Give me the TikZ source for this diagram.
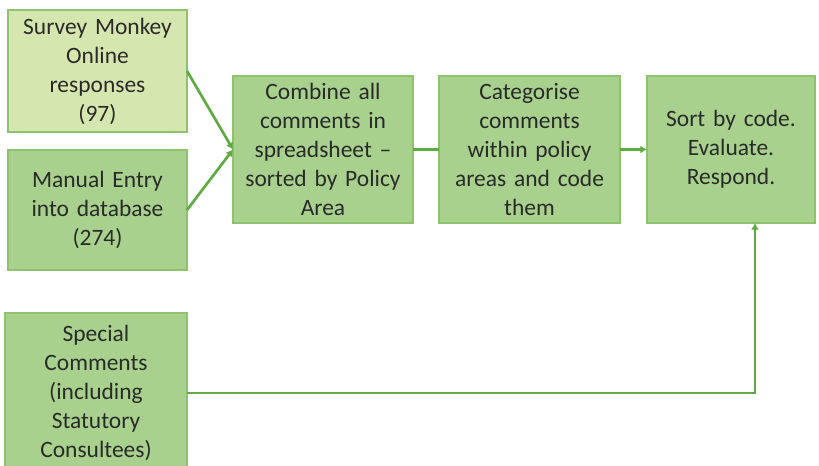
\documentclass[tikz,border=0pt]{standalone}
\usepackage{fontspec}
\setmainfont{Carlito}
\usepackage{xcolor}
\usetikzlibrary{positioning,arrows.meta}
\definecolor{boxfill}{HTML}{A9D18E}
\definecolor{lightfill}{HTML}{D5E7AE}
\definecolor{boxline}{HTML}{8DC26F}
\definecolor{linkcol}{HTML}{5EAC40}
\definecolor{txt}{HTML}{2A2A2A}

\begin{document}
\begin{tikzpicture}[x=0.75pt,y=0.75pt,every node/.style={outer sep=0pt},
    box/.style={draw=boxline,fill=boxfill,line width=0.8pt,align=center,
    text=txt,font=\fontsize{17.6}{21.75}\selectfont,inner sep=2pt},
    link/.style={draw=linkcol,line width=2pt,-{Latex[length=5pt,width=6pt]}}]

    \useasboundingbox (0,0) rectangle (819,466);

    \node[box,fill=lightfill,minimum width=179*0.75pt,minimum height=122*0.75pt,
    text width=172*0.75pt] (survey) at (97.5,395)
    {Survey Monkey\\ Online\\ responses\\ (97)};
    \node[box,minimum width=179*0.75pt,minimum height=120*0.75pt,
    text width=172*0.75pt] (manual) at (97.5,256)
    {Manual Entry\\ into database\\ (274)};
    \node[box,minimum width=180*0.75pt,minimum height=147*0.75pt,
    text width=174*0.75pt] (combine) at (323,316.5)
    {Combine all\\ comments in\\ spreadsheet --\\ sorted by Policy\\ Area};
    \node[box,minimum width=181*0.75pt,minimum height=147*0.75pt,
    text width=174*0.75pt,right=26*0.75pt of combine] (categ)
    {Categorise\\ comments\\ within policy\\ areas and code\\ them};
    \node[box,minimum width=168*0.75pt,minimum height=147*0.75pt,
    text width=162*0.75pt,right=27*0.75pt of categ] (sort)
    {Sort by code.\\ Evaluate.\\ Respond.\\[21.75pt]};
    \node[box,minimum width=182*0.75pt,minimum height=160*0.75pt,
    text width=174*0.75pt] (special) at (96,73)
    {Special\\ Comments\\ (including\\ Statutory\\ Consultees)};

    \draw[link] (survey.east) -- (combine.west);
    \draw[link] (manual.east) -- (combine.west);
    \draw[link,-] (combine) -- (categ);
    \draw[link] (categ) -- (sort);
    \draw[link] (special.east) -| ([xshift=24*0.75pt]sort.south);
\end{tikzpicture}
\end{document}
